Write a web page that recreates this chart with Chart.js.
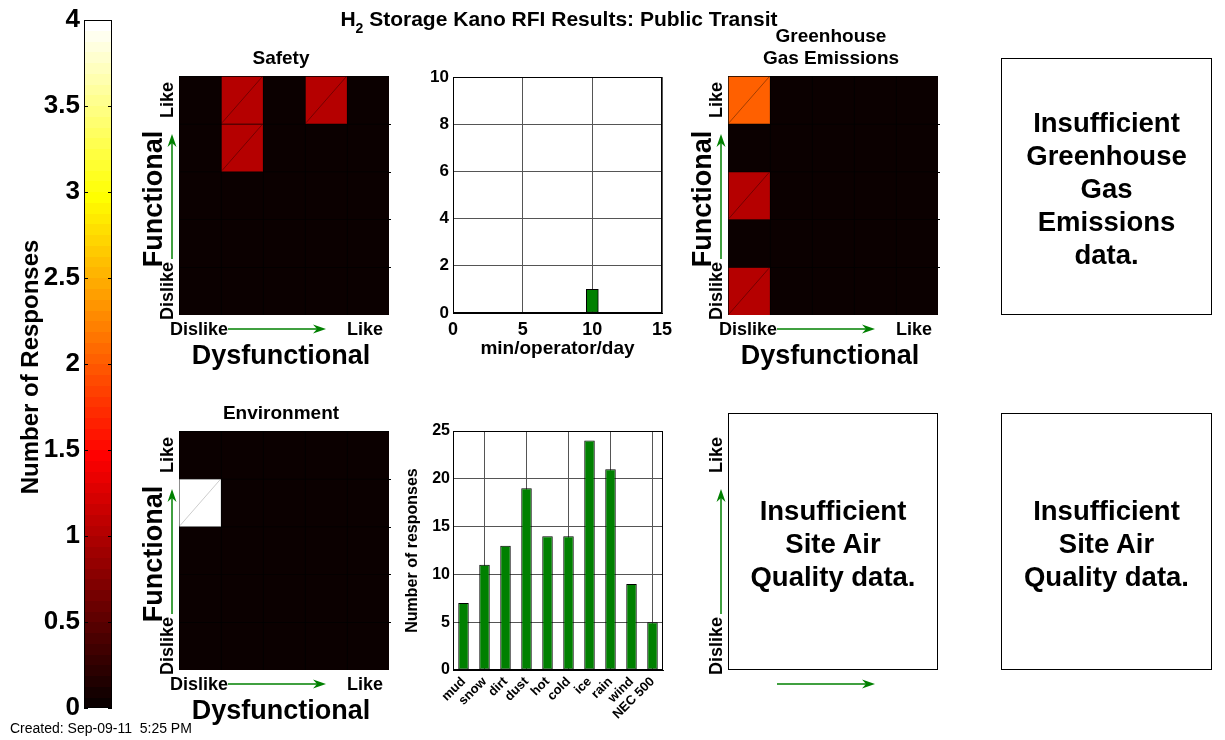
<!DOCTYPE html>
<html><head><meta charset="utf-8">
<script src="https://cdn.jsdelivr.net/npm/chart.js@4.4.1/dist/chart.umd.min.js"></script>
<style>
html,body{margin:0;padding:0;background:#fff;}
body{width:1225px;height:740px;position:relative;overflow:hidden;font-family:"Liberation Sans",Arial,Helvetica,sans-serif;color:#000;}
canvas{position:absolute;}
.lbl{position:absolute;white-space:nowrap;font-weight:bold;line-height:1;transform:translate(-50%,-50%);}
.rot{transform:translate(-50%,-50%) rotate(-90deg);}
.box{position:absolute;border:1px solid #000;box-sizing:border-box;display:flex;align-items:center;justify-content:center;text-align:center;font-weight:bold;font-size:27.5px;line-height:33px;padding-top:4px;}
#arrows{position:absolute;left:0;top:0;}
</style></head>
<body>
<canvas id="cbar" width="112" height="740" style="left:0;top:0"></canvas>
<canvas id="safety" width="212" height="239" style="left:179px;top:76px"></canvas>
<canvas id="maint" width="280" height="310" style="left:400px;top:60px"></canvas>
<canvas id="ghg" width="212" height="239" style="left:728px;top:76px"></canvas>
<canvas id="env" width="212" height="239" style="left:179px;top:431px"></canvas>
<canvas id="cond" width="280" height="325" style="left:400px;top:415px"></canvas>
<svg id="arrows" width="1225" height="740"></svg>
<div class="lbl" style="left:559px;top:18px;font-size:21px;">H<span style="font-size:14px;position:relative;top:7px;">2</span> Storage Kano RFI Results: Public Transit</div>
<div class="lbl rot" style="left:30px;top:367px;font-size:24px;">Number of Responses</div>
<div class="lbl" style="left:281px;top:57px;font-size:19px;">Safety</div>
<div class="lbl" style="left:831px;top:35px;font-size:19px;">Greenhouse</div>
<div class="lbl" style="left:831px;top:57px;font-size:19px;">Gas Emissions</div>
<div class="lbl" style="left:281px;top:412px;font-size:19px;">Environment</div>
<div class="box" style="left:1001px;top:58px;width:211px;height:257px;">Insufficient<br>Greenhouse<br>Gas<br>Emissions<br>data.</div>
<div class="box" style="left:728px;top:413px;width:210px;height:257px;">Insufficient<br>Site Air<br>Quality data.</div>
<div class="box" style="left:1001px;top:413px;width:211px;height:257px;">Insufficient<br>Site Air<br>Quality data.</div>
<div style="position:absolute;left:10px;top:720px;font-size:14px;white-space:pre;">Created: Sep-09-11  5:25 PM</div>
<script>
// ---------- data ----------
const kanoColumns = ['Dislike', '', '', '', 'Like'];          // Dysfunctional (x), left -> right
// rows listed top (Functional "Like") to bottom (Functional "Dislike")
const safetyCounts = [
  [0, 1, 0, 1, 0],
  [0, 1, 0, 0, 0],
  [0, 0, 0, 0, 0],
  [0, 0, 0, 0, 0],
  [0, 0, 0, 0, 0]
];
const ghgCounts = [
  [2, 0, 0, 0, 0],
  [0, 0, 0, 0, 0],
  [1, 0, 0, 0, 0],
  [0, 0, 0, 0, 0],
  [1, 0, 0, 0, 0]
];
const environmentCounts = [
  [0, 0, 0, 0, 0],
  [4, 0, 0, 0, 0],
  [0, 0, 0, 0, 0],
  [0, 0, 0, 0, 0],
  [0, 0, 0, 0, 0]
];
const colorbarTicks = [0, 0.5, 1, 1.5, 2, 2.5, 3, 3.5, 4];
const maintMinutes = [10];
const maintResponses = [1];
const maintXTicks = [0, 5, 10, 15];
const maintYTicks = [0, 2, 4, 6, 8, 10];
const conditionCategories = ['mud', 'snow', 'dirt', 'dust', 'hot', 'cold', 'ice', 'rain', 'wind', 'NEC 500'];
const conditionResponses = [7, 11, 13, 19, 14, 14, 24, 21, 9, 5];
const conditionYTicks = [0, 5, 10, 15, 20, 25];

// ---------- helpers ----------
const FONT = '"Liberation Sans", Arial, Helvetica, sans-serif';
Chart.defaults.font.family = FONT;
Chart.defaults.color = '#000';
Chart.defaults.animation = false;
const GRID = '#555';

function hotColor(v) {
  const idx = Math.min(63, Math.max(0, Math.floor(v / 4 * 64)));
  const k = idx + 1;
  const r = Math.min(1, k / 24);
  const g = Math.min(1, Math.max(0, (k - 24) / 24));
  const b = Math.min(1, Math.max(0, (k - 48) / 16));
  return `rgb(${Math.round(r * 255)},${Math.round(g * 255)},${Math.round(b * 255)})`;
}

const boxPlugin = {
  id: 'boxPlugin',
  afterDraw(chart) {
    const {ctx, chartArea: a} = chart;
    ctx.save();
    ctx.strokeStyle = '#000';
    ctx.lineWidth = 1;
    ctx.strokeRect(Math.round(a.left) + 0.5, Math.round(a.top) + 0.5, Math.round(a.right - a.left) - 1, Math.round(a.bottom - a.top) - 1);
    ctx.restore();
  }
};

const heatBgPlugin = {
  id: 'heatBg',
  beforeDatasetsDraw(chart) {
    const {ctx, chartArea: a} = chart;
    ctx.save();
    ctx.fillStyle = '#000';
    ctx.fillRect(a.left, a.top, a.right - a.left, a.bottom - a.top);
    ctx.restore();
  },
  afterDatasetsDraw(chart) {
    // small tick marks on the right edge at row boundaries
    const {ctx, chartArea: a} = chart;
    const y = chart.scales.y;
    ctx.save();
    ctx.strokeStyle = '#000';
    ctx.lineWidth = 1;
    for (let v = 1; v < y.max; v++) {
      const py = Math.round(y.getPixelForValue(v)) + 0.5;
      ctx.beginPath();
      ctx.moveTo(a.right, py); ctx.lineTo(a.right + 2, py);
      ctx.stroke();
    }
    ctx.restore();
  }
};

const diagPlugin = {
  id: 'diagPlugin',
  afterDatasetsDraw(chart) {
    const ctx = chart.ctx;
    ctx.save();
    ctx.lineWidth = 0.8;
    chart.data.datasets.forEach((ds, i) => {
      const meta = chart.getDatasetMeta(i);
      meta.data.forEach((el, j) => {
        if (!ds.counts[j]) return;
        const p = el.getProps(['x', 'y', 'base', 'width'], true);
        ctx.strokeStyle = ds.counts[j] >= 3 ? 'rgba(0,0,0,0.25)' : 'rgba(0,0,0,0.45)';
        ctx.beginPath();
        ctx.moveTo(p.x - p.width / 2 + 1, Math.max(p.y, p.base) - 1);
        ctx.lineTo(p.x + p.width / 2 - 1, Math.min(p.y, p.base) + 1);
        ctx.stroke();
      });
    });
    ctx.restore();
  }
};

function heatChart(id, counts) {
  const n = counts.length;
  const datasets = counts.map((row, r) => ({
    data: row.map(() => [n - 1 - r, n - r]),
    counts: row,
    backgroundColor: row.map(v => hotColor(v)),
    borderColor: row.map(v => (v >= 3 ? '#555' : '#000')),
    borderWidth: {left: 1, top: 1, right: 0, bottom: 0},
    borderSkipped: false,
    barPercentage: 1,
    categoryPercentage: 1,
    grouped: false
  }));
  new Chart(document.getElementById(id), {
    type: 'bar',
    data: {labels: kanoColumns.map((c, i) => c || String(i)), datasets},
    options: {
      responsive: false,
      layout: {padding: {left: 0, top: 0, bottom: 0, right: 2}},
      plugins: {legend: {display: false}, tooltip: {enabled: false}},
      scales: {
        x: {display: false, offset: true},
        y: {display: false, min: 0, max: n}
      }
    },
    plugins: [heatBgPlugin, diagPlugin]
  });
}

heatChart('safety', safetyCounts);
heatChart('ghg', ghgCounts);
heatChart('env', environmentCounts);

// ---------- colorbar ----------
new Chart(document.getElementById('cbar'), {
  type: 'bar',
  data: {labels: [], datasets: []},
  options: {
    responsive: false,
    layout: {padding: {top: 18, bottom: 32, left: 0, right: 0}},
    plugins: {legend: {display: false}, tooltip: {enabled: false}},
    scales: {
      x: {display: false},
      y: {
        min: 0, max: 4,
        afterFit(s) { s.width = 84; },
        afterBuildTicks(s) { s.ticks = colorbarTicks.map(v => ({value: v})); },
        grid: {display: false, drawTicks: false},
        border: {display: false},
        ticks: {padding: 4, font: {size: 26, weight: 'bold'}, callback: v => String(v)}
      }
    }
  },
  plugins: [{
    id: 'cbarFill',
    beforeDatasetsDraw(chart) {
      const {ctx, chartArea: a} = chart;
      const y = chart.scales.y;
      ctx.save();
      for (let i = 0; i < 64; i++) {
        const y0 = y.getPixelForValue(i / 16), y1 = y.getPixelForValue((i + 1) / 16);
        ctx.fillStyle = hotColor((i + 0.5) / 16);
        ctx.fillRect(a.left, Math.floor(y1), a.right - a.left, Math.ceil(y0) - Math.floor(y1));
      }
      ctx.strokeStyle = '#000';
      ctx.lineWidth = 1;
      colorbarTicks.forEach(v => {
        const py = Math.round(y.getPixelForValue(v)) + 0.5;
        ctx.beginPath();
        ctx.moveTo(a.left, py); ctx.lineTo(a.left + 4, py);
        ctx.moveTo(a.right, py); ctx.lineTo(a.right - 4, py);
        ctx.stroke();
      });
      ctx.restore();
    }
  }, boxPlugin]
});

// ---------- maintenance time histogram ----------
new Chart(document.getElementById('maint'), {
  type: 'bar',
  data: {datasets: [{
    data: maintMinutes.map((m, i) => ({x: m, y: maintResponses[i]})),
    backgroundColor: '#008000', borderColor: '#000', borderWidth: 1, borderSkipped: false,
    barThickness: 12
  }]},
  options: {
    responsive: false,
    layout: {padding: {top: 17, right: 18, left: 0, bottom: 0}},
    plugins: {legend: {display: false}, tooltip: {enabled: false}},
    scales: {
      x: {
        type: 'linear', min: 0, max: 15, offset: false,
        afterFit(s) { s.height = 57; },
        afterBuildTicks(s) { s.ticks = maintXTicks.map(v => ({value: v})); },
        grid: {color: GRID, offset: false, drawTicks: false},
        border: {color: '#000'},
        ticks: {padding: 6, font: {size: 18, weight: 'bold'}},
        title: {display: true, text: 'min/operator/day', font: {size: 19, weight: 'bold'}, padding: {top: 0, bottom: 10}}
      },
      y: {
        min: 0, max: 10,
        afterFit(s) { s.width = 53; },
        afterBuildTicks(s) { s.ticks = maintYTicks.map(v => ({value: v})); },
        grid: {color: GRID, drawTicks: false},
        border: {color: '#000'},
        ticks: {padding: 4, font: {size: 17, weight: 'bold'}}
      }
    }
  },
  plugins: [boxPlugin]
});

// ---------- environmental conditions ----------
new Chart(document.getElementById('cond'), {
  type: 'bar',
  data: {labels: conditionCategories, datasets: [{
    data: conditionResponses,
    backgroundColor: '#008000', borderColor: '#000', borderWidth: 1, borderSkipped: false,
    barPercentage: 0.5, categoryPercentage: 1
  }]},
  options: {
    responsive: false,
    layout: {padding: {top: 16, right: 17, left: 0, bottom: 0}},
    plugins: {legend: {display: false}, tooltip: {enabled: false}},
    scales: {
      x: {
        afterFit(s) { s.height = 70; },
        grid: {offset: false, drawTicks: false, color: c => (c.index % 2 === 1 ? GRID : 'rgba(0,0,0,0)')},
        border: {color: '#000'},
        ticks: {autoSkip: false, maxRotation: 45, minRotation: 45, padding: 4, font: {size: 13, weight: 'bold'}}
      },
      y: {
        min: 0, max: 25,
        afterFit(s) { s.width = 53; },
        afterBuildTicks(s) { s.ticks = conditionYTicks.map(v => ({value: v})); },
        grid: {color: GRID, drawTicks: false},
        border: {color: '#000'},
        ticks: {padding: 3, font: {size: 16, weight: 'bold'}},
        title: {display: true, text: 'Number of responses', font: {size: 16, weight: 'bold'}, padding: {top: 3, bottom: 0}}
      }
    }
  },
  plugins: [boxPlugin]
});

// ---------- Kano axis decorations ----------
const svg = document.getElementById('arrows');
const GREEN = '#008000';
function arrow(x1, y1, x2, y2) {
  const dx = x2 - x1, dy = y2 - y1, L = Math.hypot(dx, dy);
  const ux = dx / L, uy = dy / L, hl = 13, hw = 4.5;
  const bx = x2 - ux * hl, by = y2 - uy * hl;
  const bx2 = x2 - ux * (hl - 4), by2 = y2 - uy * (hl - 4);
  svg.insertAdjacentHTML('beforeend',
    `<line x1="${x1}" y1="${y1}" x2="${bx2}" y2="${by2}" stroke="${GREEN}" stroke-width="1.5"/>` +
    `<polygon points="${x2},${y2} ${bx - uy * hw},${by + ux * hw} ${bx2},${by2} ${bx + uy * hw},${by - ux * hw}" fill="${GREEN}"/>`);
}
function label(text, x, y, size, rotate) {
  const d = document.createElement('div');
  d.className = 'lbl' + (rotate ? ' rot' : '');
  d.style.left = x + 'px'; d.style.top = y + 'px'; d.style.fontSize = size + 'px';
  d.textContent = text;
  document.body.appendChild(d);
}
function kanoLabels(dx, dy, full) {
  label('Like', 167 + dx, 100 + dy, 18, true);
  label('Dislike', 167 + dx, 291 + dy, 18, true);
  arrow(172 + dx, 259 + dy, 172 + dx, 134 + dy);
  arrow(228 + dx, 329 + dy, 326 + dx, 329 + dy);
  if (full) {
    label('Functional', 153 + dx, 199 + dy, 27, true);
    label(kanoColumns[0], 199 + dx, 329 + dy, 18, false);
    label(kanoColumns[4], 365 + dx, 329 + dy, 18, false);
    label('Dysfunctional', 281 + dx, 355 + dy, 27, false);
  }
}
kanoLabels(0, 0, true);
kanoLabels(549, 0, true);
kanoLabels(0, 355, true);
kanoLabels(549, 355, false);
</script>
</body></html>
